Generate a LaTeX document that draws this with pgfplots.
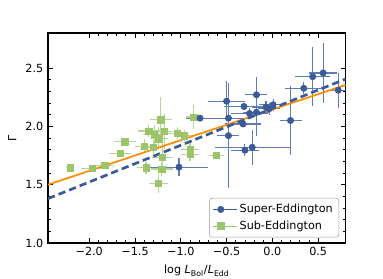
\documentclass[border=0pt]{standalone}
\usepackage{fontspec}
\setmainfont{DejaVu Sans}
\usepackage{pgfplots}
\pgfplotsset{compat=1.18}
\usepackage{pgfplotstable}
\usetikzlibrary{calc}

\definecolor{sblue}{HTML}{3A5A9A}
\definecolor{sbluebar}{HTML}{5E7CB5}
\definecolor{sgreen}{HTML}{9CC46B}
\definecolor{sgreenbar}{HTML}{B5D596}
\definecolor{sorange}{HTML}{FF8C00}

\pgfplotstableread{
x y ex ey
-2.21 1.645 0.04 0.02
-1.97 1.640 0.12 0.02
-1.83 1.668 0.10 0.02
-1.61 1.866 0.12 0.03
-1.66 1.770 0.12 0.03
-1.40 1.830 0.10 0.06
-1.30 1.820 0.10 0.06
-1.38 1.645 0.10 0.05
-1.21 1.634 0.12 0.06
-1.245 1.512 0.10 0.08
-1.20 1.735 0.12 0.12
-1.22 2.055 0.12 0.20
-1.35 1.960 0.12 0.05
-1.29 1.930 0.12 0.08
-1.24 1.895 0.10 0.10
-1.18 1.957 0.10 0.15
-1.04 1.940 0.10 0.05
-0.96 1.920 0.10 0.05
-0.86 2.080 0.08 0.10
-0.90 1.800 0.10 0.08
-0.90 1.760 0.10 0.06
-0.61 1.750 0.08 0.03
}\subtab

\pgfplotstableread{
x y ex ey
-0.50 2.215 0.20 0.17
-0.48 2.070 0.25 0.05
-0.48 1.920 0.12 0.45
-0.79 2.070 0.15 0.02
-1.02 1.650 0.32 0.08
-0.31 2.170 0.22 0.03
-0.32 2.020 0.20 0.03
-0.25 2.110 0.20 0.05
-0.174 2.270 0.12 0.15
-0.174 2.120 0.15 0.20
-0.07 2.165 0.15 0.05
-0.036 2.150 0.12 0.05
0.008 2.185 0.15 0.05
0.198 2.050 0.12 0.30
0.343 2.326 0.20 0.05
0.44 2.426 0.19 0.25
0.555 2.457 0.15 0.26
0.72 2.310 0.08 0.15
-0.30 1.795 0.15 0.05
-0.22 1.820 0.41 0.15
}\supertab

\begin{document}
\begin{tikzpicture}[font=\fontsize{8.4}{10}\selectfont]
\begin{axis}[
  scale only axis, width=223pt, height=157.3pt,
  xmin=-2.45, xmax=0.8, ymin=1.0, ymax=2.8,
  xtick={-2,-1.5,-1,-0.5,0,0.5},
  xticklabels={−2.0,−1.5,−1.0,−0.5,0.0,0.5},
  ytick={1,1.5,2,2.5},
  yticklabels={1.0,1.5,2.0,2.5},
  minor x tick num=4, minor y tick num=4,
  tick align=inside, tick pos=both,
  major tick length=3.75pt, minor tick length=2pt,
  every tick/.style={black, line width=0.6pt},
  axis line style={line width=1pt},
  xlabel={log \textit{L}\textsubscript{Bol}/\textit{L}\textsubscript{Edd}},
  ylabel={Γ},
  legend style={at={(0.978,0.026)}, anchor=south east, draw=black!40,
    rounded corners=2pt, row sep=0.5pt, inner sep=2.5pt},
  legend cell align=left,
  legend image code/.code={\path (0cm,0cm) -- (0.62cm,0cm);
    \draw[#1] plot coordinates {(0.2cm,0cm)};},
  reverse legend,
]
\addplot[only marks, mark=square*, mark size=2.4pt, color=sgreen,
  mark options={draw=sgreen, fill=sgreen},
  error bars/.cd, x dir=both, x explicit, y dir=both, y explicit,
  error bar style={sgreenbar, line width=0.8pt}, error mark=none]
  table[x=x, y=y, x error=ex, y error=ey]{\subtab};
\addlegendentry{Sub-Eddington}
\addplot[only marks, mark=*, mark size=2.4pt, color=sblue,
  mark options={draw=sblue, fill=sblue},
  error bars/.cd, x dir=both, x explicit, y dir=both, y explicit,
  error bar style={sbluebar, line width=0.8pt}, error mark=none]
  table[x=x, y=y, x error=ex, y error=ey]{\supertab};
\addlegendentry{Super-Eddington}
\addplot[forget plot, sorange, line width=1.3pt] coordinates {(-2.45,1.50) (0.8,2.355)};
\addplot[forget plot, sblue, line width=2pt, dash pattern=on 5.5pt off 3pt] coordinates {(-2.45,1.38) (0.8,2.406)};
\end{axis}
\pgfresetboundingbox
\path ($(current axis.south west)+(-36pt,-26.5pt)$) rectangle ($(current axis.north east)+(28pt,24.75pt)$);
\end{tikzpicture}
\end{document}
